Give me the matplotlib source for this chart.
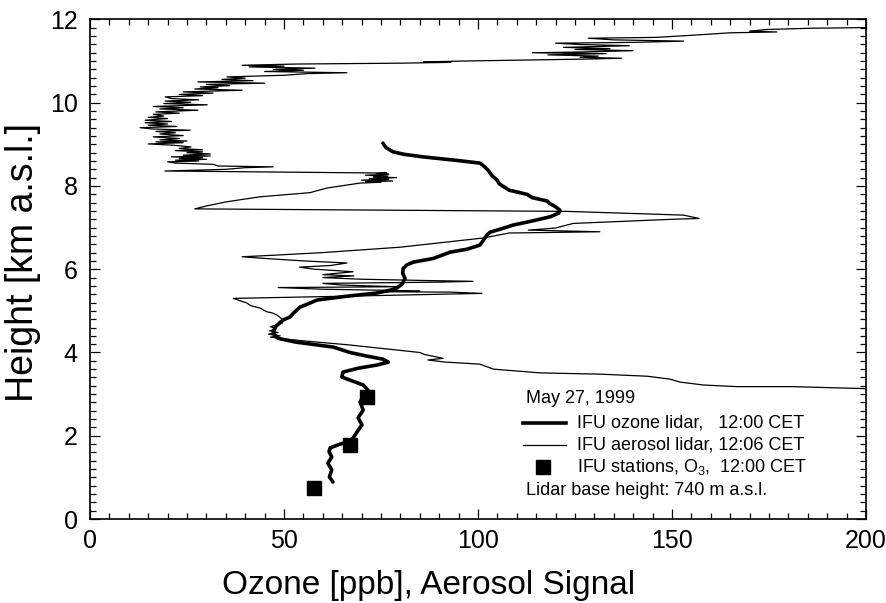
import matplotlib
matplotlib.use("Agg")
import matplotlib.pyplot as plt
from matplotlib.ticker import MultipleLocator

plt.rcParams['font.family'] = ['Liberation Sans', 'DejaVu Sans']
plt.rcParams['mathtext.fontset'] = 'custom'
plt.rcParams['mathtext.rm'] = 'Liberation Sans'
plt.rcParams['mathtext.it'] = 'Liberation Sans'

# IFU ozone lidar, 12:00 CET  (ozone [ppb], height [km a.s.l.])
ozone_ppb = [62.6, 61.7, 62.3, 61.3, 62.3, 61.6, 61.9, 64.5, 66.5, 67.8,
             68.8, 70.1, 69.1, 70.4, 69.6, 70.5, 71.6, 70.4, 67.5, 64.9,
             65.2, 69.0, 74.0, 76.9, 75.5, 71.0, 67.0, 62.7, 53.0, 48.5,
             47.2, 47.7, 49.7, 51.5, 52.5, 54.1, 56.5, 58.5, 66.0, 74.0,
             77.5, 79.1, 80.5, 81.2, 80.6, 80.7, 81.6, 83.3, 88.5, 92.8,
             97.1, 100.5, 101.4, 102.3, 103.1, 106.0, 109.0, 114.0, 118.6, 120.8,
             121.1, 120.0, 118.5, 117.8, 114.0, 112.6, 108.0, 105.5, 104.9, 103.6,
             102.6, 101.6, 100.5, 94.0, 85.8, 81.0, 78.1, 76.3, 75.5]
ozone_km = [0.89, 1.01, 1.18, 1.34, 1.49, 1.62, 1.71, 1.80, 1.85, 1.94,
            2.09, 2.26, 2.43, 2.62, 2.81, 2.95, 3.10, 3.22, 3.32, 3.41,
            3.53, 3.62, 3.70, 3.77, 3.84, 3.92, 4.00, 4.13, 4.25, 4.34,
            4.46, 4.61, 4.78, 4.85, 4.95, 5.09, 5.18, 5.26, 5.35, 5.43,
            5.50, 5.55, 5.65, 5.78, 5.90, 6.02, 6.10, 6.17, 6.26, 6.41,
            6.48, 6.58, 6.70, 6.82, 6.89, 6.97, 7.06, 7.16, 7.26, 7.35,
            7.42, 7.50, 7.58, 7.64, 7.72, 7.80, 7.90, 8.05, 8.14, 8.25,
            8.38, 8.47, 8.55, 8.62, 8.70, 8.76, 8.82, 8.92, 9.03]

# IFU aerosol lidar, 12:06 CET  (signal, height [km a.s.l.])
aerosol_sig = [205, 192.5, 181.2, 166.7, 158, 152, 149.5, 143.6, 131.4, 116,
               104, 100.5, 91.5, 87.1, 91, 86.3, 85, 67, 55, 49.7,
               46.5, 49, 46, 48.5, 46.3, 48, 46.5, 49.5, 49.8, 48.2,
               47, 45.5, 43.8, 41.5, 40.4, 38.5, 36.9, 70, 101, 93,
               74, 85, 60, 48.5, 79, 65, 60, 90, 98.7, 86,
               70, 60, 68, 60, 67.8, 58, 54, 62, 66.2, 55,
               45, 39.2, 46, 60, 80, 101.3, 108, 131.4, 113, 120,
               124.5, 150, 157, 153, 123, 27, 30, 35.2, 43.8, 56.7,
               61, 69.6, 75, 71, 78, 70, 77, 72, 79, 73,
               76.8, 71, 77, 74, 76.5, 19.3, 35, 40, 47.2, 33,
               31.8, 22, 20, 28, 22, 30, 23, 29, 21, 31,
               24, 31, 25, 29, 22, 29, 23, 26, 21.4, 15,
               24, 17, 25, 18, 23, 16.3, 24, 18, 22, 17,
               25.8, 16, 12.9, 22.4, 15, 20, 14.2, 21, 14.2, 20,
               15, 19, 16.3, 23, 17, 27.8, 18, 24, 16.3, 30.2,
               19, 26, 19.4, 28, 21, 19.4, 29, 23, 31.7, 24,
               39.2, 27, 33, 28.4, 36, 30, 45, 27.8, 42, 34,
               40, 35.3, 50, 56, 66.2, 45, 55, 47.3, 58, 41,
               50, 39.2, 53.4, 80, 86, 93, 86, 95, 128.9, 137,
               126.3, 131, 118, 133, 114, 127, 140, 125, 134, 122,
               139, 126, 120, 140, 153, 135, 128.4, 146, 155, 165,
               177, 170, 174.5, 186, 205]
aerosol_km = [3.12, 3.15, 3.18, 3.18, 3.22, 3.29, 3.36, 3.43, 3.48, 3.51,
              3.60, 3.72, 3.77, 3.82, 3.86, 3.95, 4.00, 4.18, 4.28, 4.33,
              4.37, 4.40, 4.44, 4.48, 4.52, 4.57, 4.62, 4.70, 4.78, 4.90,
              4.95, 4.98, 5.07, 5.12, 5.19, 5.25, 5.30, 5.36, 5.42, 5.45,
              5.46, 5.48, 5.52, 5.56, 5.58, 5.62, 5.66, 5.69, 5.71, 5.73,
              5.76, 5.80, 5.84, 5.87, 5.94, 6.00, 6.05, 6.09, 6.15, 6.20,
              6.26, 6.30, 6.33, 6.40, 6.53, 6.75, 6.87, 6.90, 6.94, 6.99,
              7.10, 7.20, 7.22, 7.30, 7.39, 7.45, 7.52, 7.62, 7.74, 7.84,
              7.95, 8.07, 8.09, 8.10, 8.12, 8.14, 8.16, 8.18, 8.20, 8.22,
              8.24, 8.26, 8.28, 8.30, 8.31, 8.36, 8.40, 8.44, 8.46, 8.48,
              8.52, 8.55, 8.58, 8.60, 8.62, 8.64, 8.66, 8.68, 8.70, 8.72,
              8.74, 8.77, 8.80, 8.82, 8.85, 8.87, 8.90, 8.94, 8.98, 9.01,
              9.04, 9.06, 9.08, 9.11, 9.14, 9.18, 9.21, 9.25, 9.28, 9.31,
              9.34, 9.37, 9.40, 9.43, 9.46, 9.49, 9.52, 9.55, 9.58, 9.62,
              9.65, 9.68, 9.72, 9.75, 9.78, 9.82, 9.85, 9.88, 9.91, 9.95,
              9.98, 10.01, 10.04, 10.07, 10.10, 10.14, 10.17, 10.20, 10.23, 10.26,
              10.30, 10.33, 10.36, 10.38, 10.41, 10.44, 10.47, 10.50, 10.53, 10.56,
              10.59, 10.62, 10.66, 10.70, 10.72, 10.75, 10.78, 10.80, 10.83, 10.86,
              10.88, 10.90, 10.93, 10.95, 10.96, 10.97, 10.98, 11.00, 11.05, 11.07,
              11.09, 11.12, 11.15, 11.18, 11.20, 11.22, 11.25, 11.28, 11.30, 11.33,
              11.37, 11.40, 11.43, 11.45, 11.48, 11.51, 11.55, 11.57, 11.62, 11.68,
              11.70, 11.72, 11.76, 11.79, 11.81]

# IFU stations, O3, 12:00 CET
station_ppb = [57.7, 67.0, 71.4]
station_km = [0.75, 1.78, 2.93]

fig = plt.figure(figsize=(8.87, 6.03), dpi=100)
ax = fig.add_axes([0.1015, 0.1393, 0.8748, 0.8284])

ax.plot(aerosol_sig, aerosol_km, color='black', lw=0.9)
ax.plot(ozone_ppb, ozone_km, color='black', lw=2.6, solid_capstyle='round')
ax.plot(station_ppb, station_km, 's', color='black', ms=9.5, ls='none')

ax.set_xlim(0, 200)
ax.set_ylim(0, 12)
ax.xaxis.set_major_locator(MultipleLocator(50))
ax.xaxis.set_minor_locator(MultipleLocator(5))
ax.yaxis.set_major_locator(MultipleLocator(2))
ax.yaxis.set_minor_locator(MultipleLocator(0.2))
ax.tick_params(which='both', direction='in', top=True, right=True, width=0.9)
ax.tick_params(which='major', length=7.5, labelsize=18)
ax.tick_params(axis='x', which='major', pad=7)
ax.tick_params(axis='y', which='major', pad=9)
ax.tick_params(which='minor', length=4)
for s in ax.spines.values():
    s.set_linewidth(1.2)

ax.set_xlabel('Ozone [ppb], Aerosol Signal', fontsize=24, va='center')
ax.xaxis.set_label_coords(0.436, -0.134)
ax.set_ylabel('Height [km a.s.l.]', fontsize=27, va='center')
ax.yaxis.set_label_coords(-0.0865, 0.513)

# legend block
tr = ax.transAxes
fs = 13
ax.text(0.562, 0.242, 'May 27, 1999', transform=tr, fontsize=fs, va='center')
ax.plot([0.558, 0.613], [0.192, 0.192], transform=tr, color='black', lw=2.6)
ax.text(0.628, 0.192, 'IFU ozone lidar,   12:00 CET', transform=tr, fontsize=fs, va='center')
ax.plot([0.558, 0.613], [0.148, 0.148], transform=tr, color='black', lw=0.9)
ax.text(0.628, 0.148, 'IFU aerosol lidar, 12:06 CET', transform=tr, fontsize=fs, va='center')
ax.plot([0.584], [0.104], 's', transform=tr, color='black', ms=9.5)
ax.text(0.628, 0.104, 'IFU stations, O$_3$,  12:00 CET', transform=tr, fontsize=fs, va='center')
ax.text(0.562, 0.058, 'Lidar base height: 740 m a.s.l.', transform=tr, fontsize=fs, va='center')

fig.savefig('out.png', dpi=100)
